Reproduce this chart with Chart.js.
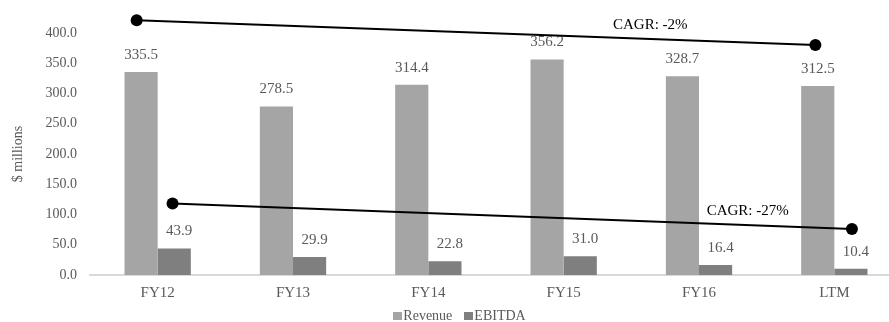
<!DOCTYPE html>
<html>
<head>
<meta charset="utf-8">
<script src="https://cdn.jsdelivr.net/npm/chart.js@4.4.0/dist/chart.umd.min.js"></script>
<style>
  body { margin: 0; background: #fff; }
  #wrap { position: relative; width: 889px; height: 322px; overflow: hidden; }
  /* plot runs a little past the right edge, as in the source sheet */
  #plot { width: 902px; height: 322px; }
  #legend {
    position: absolute; left: 0; top: 308px; width: 889px;
    display: flex; justify-content: center; padding-left: 30px; box-sizing: border-box;
    font: 14px "Liberation Serif", "Times New Roman", serif; line-height: 16px; color: #595959;
  }
  #legend .item { display: flex; align-items: center; margin: 0 6px; }
  #legend .box { width: 9px; height: 8px; margin-right: 1px; }
</style>
</head>
<body>
<div id="wrap">
  <div id="plot"><canvas id="finChart"></canvas></div>
  <div id="legend"></div>
</div>
<script>
// Revenue / EBITDA history ($ millions)
const periods = ['FY12', 'FY13', 'FY14', 'FY15', 'FY16', 'LTM'];
const revenue = [335.5, 278.5, 314.4, 356.2, 328.7, 312.5];
const ebitda = [43.9, 29.9, 22.8, 31.0, 16.4, 10.4];
const yTicks = [0, 50, 100, 150, 200, 250, 300, 350, 400];

// CAGR trend lines; x is a fractional category index (0 = FY12 ... 5 = LTM)
const revTrendX = [-0.155, 4.86];
const revTrendY = [421, 380];
const ebitdaTrendX = [0.11, 5.13];
const ebitdaTrendY = [118, 76];
const cagrText = ['CAGR: -2%', 'CAGR: -27%'];
const cagrAt = [3.64, 4.36];

const SERIF = '"Liberation Serif", "Times New Roman", serif';
const GREY_TEXT = '#595959';

const trends = [
    { xs: revTrendX, ys: revTrendY, text: cagrText[0], at: cagrAt[0] },
    { xs: ebitdaTrendX, ys: ebitdaTrendY, text: cagrText[1], at: cagrAt[1] }
];

// value labels above each bar
const barValues = {
    id: 'barValues',
    afterDatasetsDraw(chart) {
        const ctx = chart.ctx;
        ctx.save();
        ctx.font = '15px ' + SERIF;
        ctx.fillStyle = GREY_TEXT;
        ctx.textAlign = 'center';
        ctx.textBaseline = 'middle';
        chart.data.datasets.forEach((ds, i) => {
            chart.getDatasetMeta(i).data.forEach((bar, j) => {
                ctx.fillText(ds.data[j].toFixed(1), bar.x + (ds.labelShift || 0), bar.y - 17);
            });
        });
        ctx.restore();
    }
};

// CAGR lines with round end markers and a caption above each
const cagrLines = {
    id: 'cagrLines',
    afterDatasetsDraw(chart) {
        const ctx = chart.ctx;
        const xs = chart.scales.x;
        const ys = chart.scales.y;
        ctx.save();
        trends.forEach((t) => {
            const x0 = xs.getPixelForValue(t.xs[0]);
            const x1 = xs.getPixelForValue(t.xs[1]);
            const y0 = ys.getPixelForValue(t.ys[0]);
            const y1 = ys.getPixelForValue(t.ys[1]);
            ctx.strokeStyle = '#000';
            ctx.lineWidth = 2;
            ctx.beginPath();
            ctx.moveTo(x0, y0);
            ctx.lineTo(x1, y1);
            ctx.stroke();
            ctx.fillStyle = '#000';
            [[x0, y0], [x1, y1]].forEach(([px, py]) => {
                ctx.beginPath();
                ctx.arc(px, py, 6, 0, Math.PI * 2);
                ctx.fill();
            });
            const lx = xs.getPixelForValue(t.at);
            const ly = y0 + (lx - x0) / (x1 - x0) * (y1 - y0);
            ctx.font = '15px ' + SERIF;
            ctx.textAlign = 'center';
            ctx.textBaseline = 'middle';
            ctx.fillText(t.text, lx, ly - 14);
        });
        ctx.restore();
    }
};

function buildLegend(chart) {
    const box = document.getElementById('legend');
    chart.data.datasets.forEach((ds) => {
        const item = document.createElement('span');
        item.className = 'item';
        const swatch = document.createElement('span');
        swatch.className = 'box';
        swatch.style.background = ds.backgroundColor;
        item.appendChild(swatch);
        item.appendChild(document.createTextNode(ds.label));
        box.appendChild(item);
    });
}

document.addEventListener('DOMContentLoaded', () => {
    const ctx = document.getElementById('finChart').getContext('2d');
    const chart = new Chart(ctx, {
        type: 'bar',
        data: {
            labels: periods,
            datasets: [
                { label: 'Revenue', data: revenue, backgroundColor: '#A5A5A5' },
                { label: 'EBITDA', data: ebitda, backgroundColor: '#7F7F7F', labelShift: 5 }
            ]
        },
        options: {
            responsive: true,
            maintainAspectRatio: false,
            animation: false,
            layout: { padding: { top: 33, right: 0, left: 0, bottom: 0 } },
            categoryPercentage: 0.49,
            barPercentage: 1.0,
            scales: {
                x: {
                    grid: { display: false, drawTicks: false },
                    border: { display: true, color: '#D9D9D9', width: 2 },
                    ticks: { color: GREY_TEXT, font: { family: SERIF, size: 15 }, padding: 9 },
                    afterFit: (s) => { s.height = 47; }
                },
                y: {
                    min: 0,
                    max: 400,
                    grid: { display: false, drawTicks: false },
                    border: { display: false },
                    afterBuildTicks: (s) => { s.ticks = yTicks.map(v => ({ value: v })); },
                    ticks: {
                        color: GREY_TEXT,
                        font: { family: SERIF, size: 14 },
                        padding: 13,
                        callback: (v) => Number(v).toFixed(1)
                    },
                    title: {
                        display: true,
                        text: '$ millions',
                        color: GREY_TEXT,
                        font: { family: SERIF, size: 14 },
                        padding: { top: 10, bottom: 0 }
                    },
                    afterFit: (s) => { s.width = 90; }
                }
            },
            plugins: {
                legend: { display: false },
                tooltip: { enabled: false }
            }
        },
        plugins: [barValues, cagrLines]
    });
    buildLegend(chart);
});
</script>
</body>
</html>
